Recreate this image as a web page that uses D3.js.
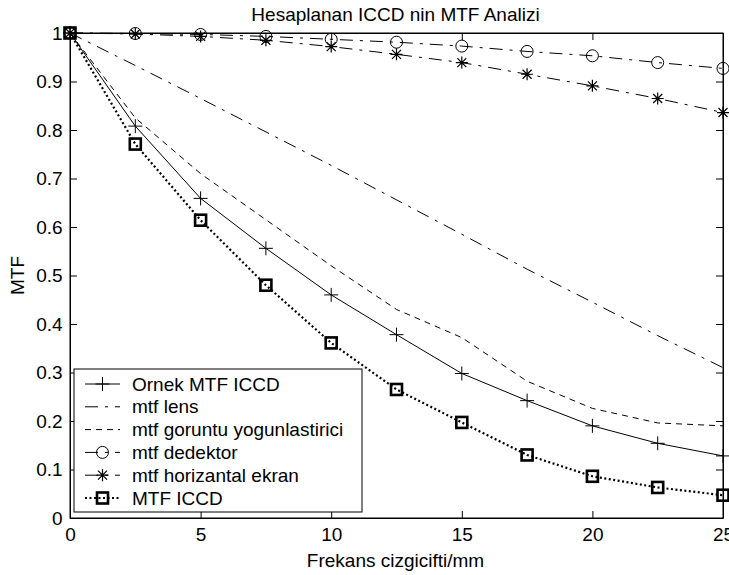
<!DOCTYPE html>
<html>
<head>
<meta charset="utf-8">
<script src="https://cdn.jsdelivr.net/npm/d3@7"></script>
<style>
  html, body { margin: 0; padding: 0; background: #fff; }
  svg { display: block; }
  text { font-family: "Liberation Sans", Arial, sans-serif; fill: #000; }
</style>
</head>
<body>
<svg id="chart" width="729" height="575"></svg>
<script>
// ---------- data ----------
const freq = [0, 2.5, 5, 7.5, 10, 12.5, 15, 17.5, 20, 22.5, 25];
const ornekMTF   = [1, 0.808, 0.659, 0.556, 0.46, 0.378, 0.298, 0.242, 0.19, 0.154, 0.128];
const mtfLens    = [1, 0.933, 0.865, 0.796, 0.727, 0.656, 0.585, 0.513, 0.445, 0.376, 0.31];
const mtfGoruntu = [1, 0.825, 0.71, 0.615, 0.52, 0.43, 0.372, 0.282, 0.226, 0.196, 0.19];
const mtfDedektor= [1, 0.999, 0.997, 0.993, 0.987, 0.981, 0.973, 0.962, 0.953, 0.939, 0.927];
const mtfEkran   = [1, 0.998, 0.993, 0.985, 0.972, 0.956, 0.939, 0.915, 0.891, 0.865, 0.836];
const mtfICCD    = [1, 0.771, 0.614, 0.48, 0.361, 0.265, 0.197, 0.13, 0.086, 0.063, 0.047];
const seriesNames = ["Ornek MTF ICCD", "mtf lens", "mtf goruntu yogunlastirici",
                     "mtf dedektor", "mtf horizantal ekran", "MTF ICCD"];
const xTicks = [0, 5, 10, 15, 20, 25];
const yTicks = [0, 0.1, 0.2, 0.3, 0.4, 0.5, 0.6, 0.7, 0.8, 0.9, 1];
const yTickLabels = ["0", "0.1", "0.2", "0.3", "0.4", "0.5", "0.6", "0.7", "0.8", "0.9", "1"];
const titleText = "Hesaplanan ICCD nin MTF Analizi";
const xLabel = "Frekans cizgicifti/mm";
const yLabel = "MTF";

// ---------- styles ----------
const styles = [
  { vals: ornekMTF,    dash: null,          width: 1,   marker: "plus" },
  { vals: mtfLens,     dash: "13,7,3,7",    width: 1,   marker: null },
  { vals: mtfGoruntu,  dash: "6,5",         width: 1,   marker: null },
  { vals: mtfDedektor, dash: "13,7,3,7",    width: 1,   marker: "circle" },
  { vals: mtfEkran,    dash: "13,7,3,7",    width: 1,   marker: "star" },
  { vals: mtfICCD,     dash: "2,2.5",       width: 2.2, marker: "square" }
];

const svg = d3.select("#chart");
const L = 70, R = 723, T = 33, B = 518;
const x = d3.scaleLinear().domain([0, 25]).range([L, R]);
const y = d3.scaleLinear().domain([0, 1]).range([B, T]);

// frame
svg.append("rect").attr("x", L).attr("y", T).attr("width", R - L).attr("height", B - T)
  .attr("fill", "#fff").attr("stroke", "#000").attr("stroke-width", 1);

// axes with inward ticks
const fs = 19;
const xAxisB = d3.axisBottom(x).tickValues(xTicks).tickSizeInner(-7).tickSizeOuter(0).tickPadding(10).tickFormat(d3.format("d"));
const gxb = svg.append("g").attr("transform", `translate(0,${B})`).call(xAxisB);
const xAxisT = d3.axisTop(x).tickValues(xTicks).tickSizeInner(-7).tickSizeOuter(0).tickFormat("");
const gxt = svg.append("g").attr("transform", `translate(0,${T})`).call(xAxisT);
const yAxisL = d3.axisLeft(y).tickValues(yTicks).tickSizeInner(-7).tickSizeOuter(0).tickPadding(14)
  .tickFormat((d, i) => yTickLabels[i]);
const gyl = svg.append("g").attr("transform", `translate(${L},0)`).call(yAxisL);
const yAxisR = d3.axisRight(y).tickValues(yTicks).tickSizeInner(-7).tickSizeOuter(0).tickFormat("");
const gyr = svg.append("g").attr("transform", `translate(${R},0)`).call(yAxisR);
[gxb, gxt, gyl, gyr].forEach(g => {
  g.select(".domain").attr("stroke", "#000");
  g.selectAll(".tick line").attr("stroke", "#000");
  g.selectAll("text").attr("font-family", "Liberation Sans, Arial, sans-serif")
    .attr("font-size", fs).attr("fill", "#000");
});
gyl.selectAll("text").attr("dx", "0.35em");

// title & labels
svg.append("text").attr("x", (L + R) / 2 - 1).attr("y", 21).attr("text-anchor", "middle")
  .attr("font-size", fs).text(titleText);
svg.append("text").attr("x", (L + R) / 2 - 1).attr("y", 567).attr("text-anchor", "middle")
  .attr("font-size", fs).text(xLabel);
svg.append("text").attr("transform", `translate(24,${(T + B) / 2}) rotate(-90)`)
  .attr("text-anchor", "middle").attr("font-size", fs).text(yLabel);

// markers
function drawMarker(g, type, cx, cy) {
  if (type === "plus") {
    g.append("path").attr("d", `M${cx - 7},${cy}H${cx + 7}M${cx},${cy - 7}V${cy + 7}`)
      .attr("stroke", "#000").attr("stroke-width", 1).attr("fill", "none");
  } else if (type === "circle") {
    g.append("circle").attr("cx", cx).attr("cy", cy).attr("r", 6)
      .attr("stroke", "#000").attr("stroke-width", 1).attr("fill", "none");
  } else if (type === "star") {
    const s = 6, d = 4.5;
    g.append("path").attr("d",
      `M${cx - s},${cy}H${cx + s}M${cx},${cy - s}V${cy + s}M${cx - d},${cy - d}L${cx + d},${cy + d}M${cx - d},${cy + d}L${cx + d},${cy - d}`)
      .attr("stroke", "#000").attr("stroke-width", 1.2).attr("fill", "none");
  } else if (type === "square") {
    g.append("rect").attr("x", cx - 5.5).attr("y", cy - 5.5).attr("width", 11).attr("height", 11)
      .attr("stroke", "#000").attr("stroke-width", 2.6).attr("fill", "none");
  }
}

const line = d3.line().x((d, i) => x(freq[i])).y(d => y(d));
const plotG = svg.append("g");
styles.forEach(s => {
  const p = plotG.append("path").datum(s.vals).attr("d", line)
    .attr("fill", "none").attr("stroke", "#000").attr("stroke-width", s.width);
  if (s.dash) p.attr("stroke-dasharray", s.dash);
  if (s.marker) s.vals.forEach((v, i) => drawMarker(plotG, s.marker, x(freq[i]), y(v)));
});

// legend
const lg = svg.append("g");
const lx0 = 74, ly0 = 369, lw = 288, lh = 143;
lg.append("rect").attr("x", lx0).attr("y", ly0).attr("width", lw).attr("height", lh)
  .attr("fill", "#fff").attr("stroke", "#000").attr("stroke-width", 1);
const rowY = d3.scaleLinear().domain([0, seriesNames.length - 1]).range([ly0 + 15, ly0 + 129]);
seriesNames.forEach((name, i) => {
  const s = styles[i];
  const yy = rowY(i);
  const p = lg.append("line").attr("x1", 85).attr("x2", 120).attr("y1", yy).attr("y2", yy)
    .attr("stroke", "#000").attr("stroke-width", s.width);
  if (s.dash) p.attr("stroke-dasharray", s.dash);
  if (s.marker) drawMarker(lg, s.marker, 102.5, yy);
  lg.append("text").attr("x", 132).attr("y", yy).attr("dy", "0.35em")
    .attr("font-size", fs).text(name);
});
</script>
</body>
</html>
